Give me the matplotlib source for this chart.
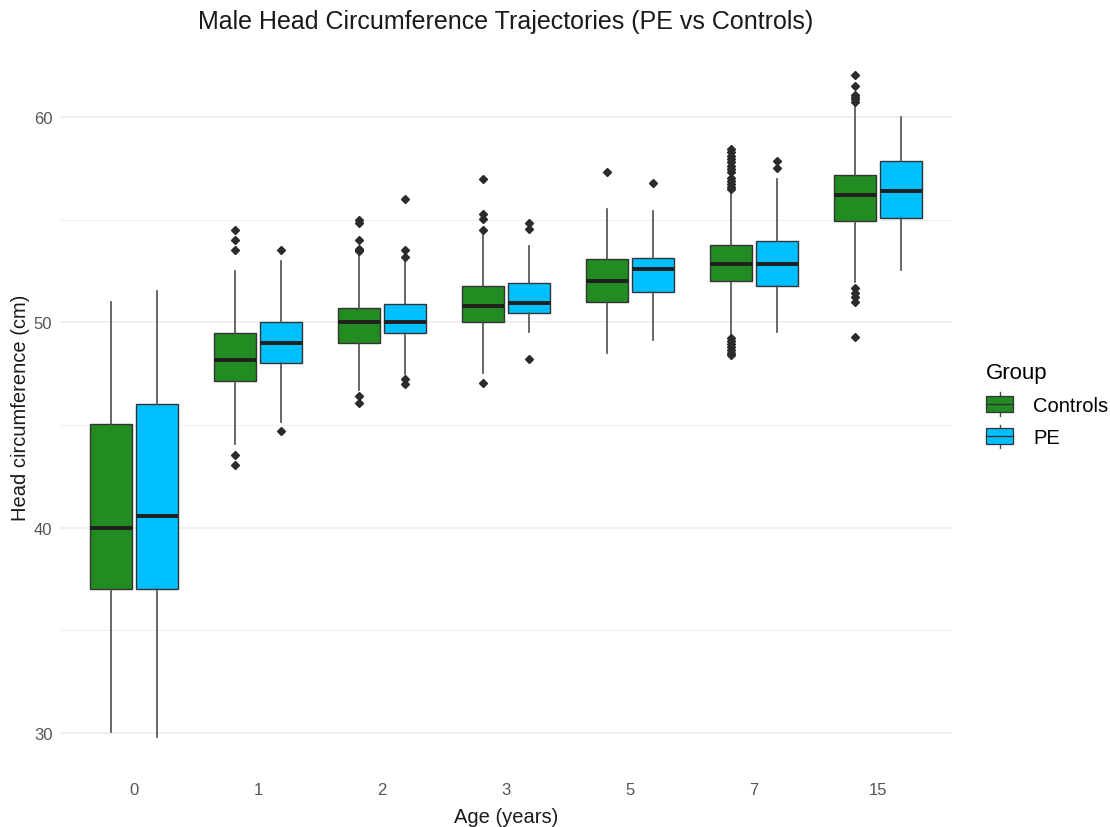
import matplotlib
matplotlib.use('Agg')
import matplotlib.pyplot as plt
from matplotlib.legend_handler import HandlerBase
from matplotlib.patches import Rectangle, Patch
from matplotlib.lines import Line2D

plt.rcParams['font.family'] = ['Liberation Sans', 'DejaVu Sans']

ages = ["0", "1", "2", "3", "5", "7", "15"]

# Controls
ctrl_q1 = [37.0, 47.13, 49.0, 50.0, 50.98, 52.03, 54.95]
ctrl_med = [40.0, 48.17, 50.0, 50.8, 52.03, 52.82, 56.2]
ctrl_q3 = [45.05, 49.5, 50.69, 51.77, 53.07, 53.78, 57.15]
ctrl_lo = [30.05, 44.08, 46.7, 47.54, 48.52, 49.4, 51.95]
ctrl_hi = [51.0, 52.52, 53.3, 54.39, 55.52, 56.4, 60.64]
ctrl_out = [
    [],
    [54.5, 54.0, 53.5, 43.55, 43.07],
    [55.0, 54.85, 54.0, 53.55, 53.5, 53.45, 46.4, 46.05],
    [57.0, 55.28, 55.04, 54.5, 47.03],
    [57.33],
    [58.45, 58.3, 58.1, 57.95, 57.8, 57.6, 57.45, 57.3, 57.05, 56.9, 56.75,
     56.6, 56.5, 49.25, 49.1, 48.95, 48.8, 48.65, 48.5, 48.4],
    [62.02, 61.53, 61.05, 60.95, 60.85, 60.75, 51.66, 51.45, 51.25, 51.0, 49.3],
]

# PE
pe_q1 = [37.0, 48.0, 49.5, 50.47, 51.47, 51.78, 55.08]
pe_med = [40.55, 49.0, 50.0, 50.93, 52.59, 52.82, 56.38]
pe_q3 = [46.0, 50.0, 50.91, 51.9, 53.12, 53.98, 57.87]
pe_lo = [29.8, 45.16, 47.5, 49.55, 49.13, 49.55, 52.57]
pe_hi = [51.5, 53.0, 53.1, 53.7, 55.4, 56.98, 60.0]
pe_out = [
    [],
    [53.5, 44.7],
    [56.0, 53.5, 53.2, 47.25, 47.0],
    [54.84, 54.55, 48.2],
    [56.8],
    [57.87, 57.5],
    [],
]

groups = ["Controls", "PE"]
colors = ["#228B22", "#00BFFF"]


def make_stats(q1, med, q3, lo, hi, out):
    stats = []
    for i in range(len(q1)):
        stats.append(dict(q1=q1[i], med=med[i], q3=q3[i],
                          whislo=lo[i], whishi=hi[i], fliers=out[i]))
    return stats


class BoxKeyHandler(HandlerBase):
    def create_artists(self, legend, orig_handle, xdescent, ydescent,
                       width, height, fontsize, trans):
        x0, y0 = -xdescent, -ydescent
        xm = x0 + width / 2
        whisk = Line2D([xm, xm], [y0, y0 + height], color='#4d4d4d',
                       lw=1.0, transform=trans)
        rect = Rectangle((x0, y0 + 0.16 * height), width, 0.68 * height,
                         facecolor=orig_handle.get_facecolor(),
                         edgecolor='#333333', lw=0.9, transform=trans)
        med = Line2D([x0, x0 + width], [y0 + height / 2, y0 + height / 2],
                     color='#333333', lw=1.0, transform=trans)
        return [whisk, rect, med]


fig = plt.figure(figsize=(11.1, 8.28), dpi=100)
ax = fig.add_axes([60 / 1110, 57 / 828, 892 / 1110, 727 / 828])

pos = list(range(len(ages)))
offset = 0.186
bw = 0.34

all_stats = [make_stats(ctrl_q1, ctrl_med, ctrl_q3, ctrl_lo, ctrl_hi, ctrl_out),
             make_stats(pe_q1, pe_med, pe_q3, pe_lo, pe_hi, pe_out)]

for g, (stats, col) in enumerate(zip(all_stats, colors)):
    sign = -1 if g == 0 else 1
    ax.bxp(stats, positions=[p + sign * offset for p in pos], widths=bw,
           patch_artist=True, showcaps=False, manage_ticks=False,
           boxprops=dict(facecolor=col, edgecolor='#333333', linewidth=1.0),
           whiskerprops=dict(color='#4d4d4d', linewidth=1.2),
           medianprops=dict(color='#1f1f1f', linewidth=2.8),
           flierprops=dict(marker='D', markersize=4.5, markerfacecolor='#2b2b2b',
                           markeredgecolor='#2b2b2b'),
           zorder=3)

ax.set_xlim(-0.6, len(ages) - 1 + 0.6)
ax.set_ylim(28.2, 63.6)
ax.set_xticks(pos)
ax.set_xticklabels(ages)
ax.set_yticks([30, 40, 50, 60])
ax.set_yticks([35, 45, 55], minor=True)
ax.grid(axis='y', which='major', color='#EBEBEB', linewidth=1.1, zorder=0)
ax.grid(axis='y', which='minor', color='#F0F0F0', linewidth=0.8, zorder=0)
ax.grid(axis='x', visible=False)
ax.set_axisbelow(True)
for s in ax.spines.values():
    s.set_visible(False)
ax.tick_params(axis='both', which='both', length=0, colors='#555555', labelsize=12)
ax.tick_params(axis='y', pad=5.5)
ax.tick_params(axis='x', pad=9)

ax.set_xlabel('Age (years)', fontsize=14.5, color='#1a1a1a', labelpad=7)
ax.set_ylabel('Head circumference (cm)', fontsize=14.5, color='#1a1a1a', labelpad=3)
fig.text(506 / 1110, 1 - 22 / 828, 'Male Head Circumference Trajectories (PE vs Controls)',
         ha='center', va='center', fontsize=18, color='#1a1a1a')

handles = [Patch(facecolor=c, label=g) for c, g in zip(colors, groups)]
leg = fig.legend(handles=handles, title='Group', loc='center left',
                 bbox_to_anchor=(986 / 1110, 1 - 406 / 828), frameon=False,
                 handler_map={Patch: BoxKeyHandler()}, fontsize=14.5,
                 title_fontsize=16, handlelength=1.35, handleheight=1.4,
                 labelspacing=0.45, handletextpad=1.0, borderpad=0,
                 borderaxespad=0, alignment='left')

fig.savefig('out.png', dpi=100)
